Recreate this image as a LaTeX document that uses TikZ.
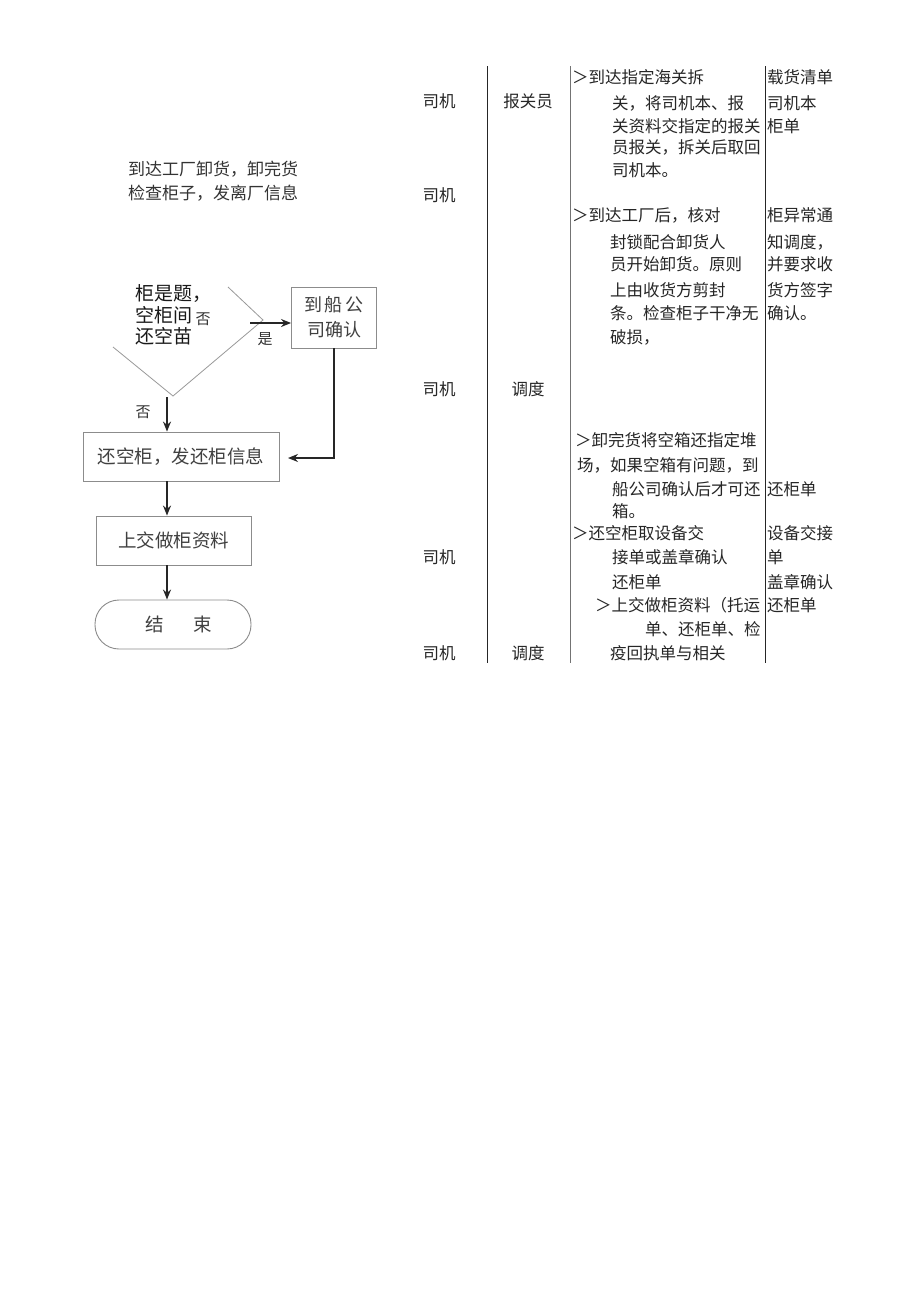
\documentclass[tikz,border=0pt]{standalone}
\usepackage{fontspec}
\setmainfont{Noto Sans CJK SC}
\usetikzlibrary{arrows.meta}
\tikzset{
  tb/.style={anchor=base west,inner sep=0pt,font=\fontsize{16.5}{20}\selectfont,text=black!85},
  tc/.style={anchor=base,inner sep=0pt,font=\fontsize{16.5}{20}\selectfont,text=black!85},
  ft/.style={anchor=base west,inner sep=0pt,font=\fontsize{17}{20}\selectfont,text=black!80},
  fbox/.style={draw=black!45,line width=0.9pt,text=black!75,font=\fontsize{18.5}{22}\selectfont,inner sep=0pt},
  flow/.style={draw=black!85,line width=1.4pt,-{Stealth[length=10pt,width=8pt]}},
  dia/.style={draw=black!40,line width=0.8pt},
  lab/.style={inner sep=0pt,font=\fontsize{15}{18}\selectfont,text=black!80},
}
\begin{document}
\begin{tikzpicture}[x=1pt,y=-1pt]
\useasboundingbox (0,0) rectangle (920,1301);
\fill[white] (0,0) rectangle (920,1301);

% ---------- flowchart ----------
\node[ft] (f1) at (128,175) {到达工厂卸货，卸完货};
\node[ft] (f2) at (128,199) {检查柜子，发离厂信息};

% diamond (clipped)
\coordinate (dtop) at (228,287);
\coordinate (dright) at (263,320);
\coordinate (dbot) at (173,396);
\coordinate (dleft) at (113,347);
\draw[dia] (dtop) -- (dright) -- (dbot) -- (dleft);
\node[anchor=base west,inner sep=0pt,font=\fontsize{19}{21}\selectfont,text=black!90] (d1) at (135,300) {柜是题，};
\node[anchor=base west,inner sep=0pt,font=\fontsize{19}{21}\selectfont,text=black!90] (d2) at (135,322) {空柜间};
\node[anchor=base west,inner sep=0pt,font=\fontsize{19}{21}\selectfont,text=black!90] (d3) at (135,343) {还空苗};
\node[lab] (no1) at (203,319) {否};
\node[lab] (yes) at (265,339) {是};
\node[lab] (no2) at (143,412) {否};

\node[fbox,minimum width=85pt,minimum height=61pt,align=center,font=\fontsize{18}{25}\selectfont] (ship) at (334,317.5) {到\,船\,公\\司确认};
\node[fbox,minimum width=196pt,minimum height=49pt] (box1) at (181,456.5) {还空柜，发还柜信息};
\node[fbox,minimum width=155pt,minimum height=49pt] (box2) at (173.5,540.5) {上交做柜资料};
\node[fbox,minimum width=156pt,minimum height=49pt,rounded corners=24pt] (term) at (173,624.5) {\hspace{0.6em}结\hspace{1.6em}束};

\coordinate (ystart) at (250,323);
\coordinate (nstart) at (167,397);
\coordinate (ret) at (288,458);
\draw[flow] (ystart) -- (ystart -| ship.west);
\draw[flow] (nstart) -- (nstart |- box1.north);
\draw[flow] (box1.south -| nstart) -- (box2.north -| nstart);
\draw[flow] (box2.south -| nstart) -- (term.north -| nstart);
\draw[flow] (ship.south) |- (ret);

% ---------- table ----------
\coordinate (l1t) at (487,66);
\coordinate (l1b) at (487,663);
\coordinate (l2t) at (570,66);
\coordinate (l2b) at (570,663);
\coordinate (l3t) at (765,66);
\coordinate (l3b) at (765,663);
\draw[black!85,line width=0.8pt] (l1t) -- (l1b);
\draw[black!55,line width=0.8pt] (l2t) -- (l2b);
\draw[black!85,line width=0.8pt] (l3t) -- (l3b);

\node[tc] (r1) at (439,107) {司机};
\node[tc] (r2) at (439,201) {司机};
\node[tc] (r3) at (439,395) {司机};
\node[tc] (r4) at (439,563) {司机};
\node[tc] (r5) at (439,659) {司机};
\node[tc] (p1) at (528,107) {报关员};
\node[tc] (p2) at (528,395) {调度};
\node[tc] (p3) at (528,659) {调度};

\node[tb] (a1) at (572,83) {＞到达指定海关拆};
\node[tb] (a2) at (612,109) {关，将司机本、报};
\node[tb] (a3) at (612,132) {关资料交指定的报关};
\node[tb] (a4) at (612,153) {员报关，拆关后取回};
\node[tb] (a5) at (612,176) {司机本。};
\node[tb] (b1) at (572,221) {＞到达工厂后，核对};
\node[tb] (b2) at (610,248) {封锁配合卸货人};
\node[tb] (b3) at (610,270) {员开始卸货。原则};
\node[tb] (b4) at (610,296) {上由收货方剪封};
\node[tb] (b5) at (610,319) {条。检查柜子干净无};
\node[tb] (b6) at (610,343) {破损，};
\node[tb] (c1) at (575,446) {＞卸完货将空箱还指定堆};
\node[tb] (c2) at (577,471) {场，如果空箱有问题，到};
\node[tb] (c3) at (612,495) {船公司确认后才可还};
\node[tb] (c4) at (612,517) {箱。};
\node[tb] (e1) at (572,539) {＞还空柜取设备交};
\node[tb] (e2) at (612,563) {接单或盖章确认};
\node[tb] (e3) at (612,588) {还柜单};
\node[tb] (g1) at (595,611) {＞上交做柜资料（托运};
\node[tb] (g2) at (645,635) {单、还柜单、检};
\node[tb] (g3) at (610,659) {疫回执单与相关};

\node[tb] (k1) at (767,83) {载货清单};
\node[tb] (k2) at (767,109) {司机本};
\node[tb] (k3) at (767,132) {柜单};
\node[tb] (m1) at (767,221) {柜异常通};
\node[tb] (m2) at (767,248) {知调度，};
\node[tb] (m3) at (767,270) {并要求收};
\node[tb] (m4) at (767,296) {货方签字};
\node[tb] (m5) at (767,319) {确认。};
\node[tb] (n1) at (767,495) {还柜单};
\node[tb] (n2) at (767,539) {设备交接};
\node[tb] (n3) at (767,563) {单};
\node[tb] (n4) at (767,588) {盖章确认};
\node[tb] (n5) at (767,611) {还柜单};
\end{tikzpicture}
\end{document}
